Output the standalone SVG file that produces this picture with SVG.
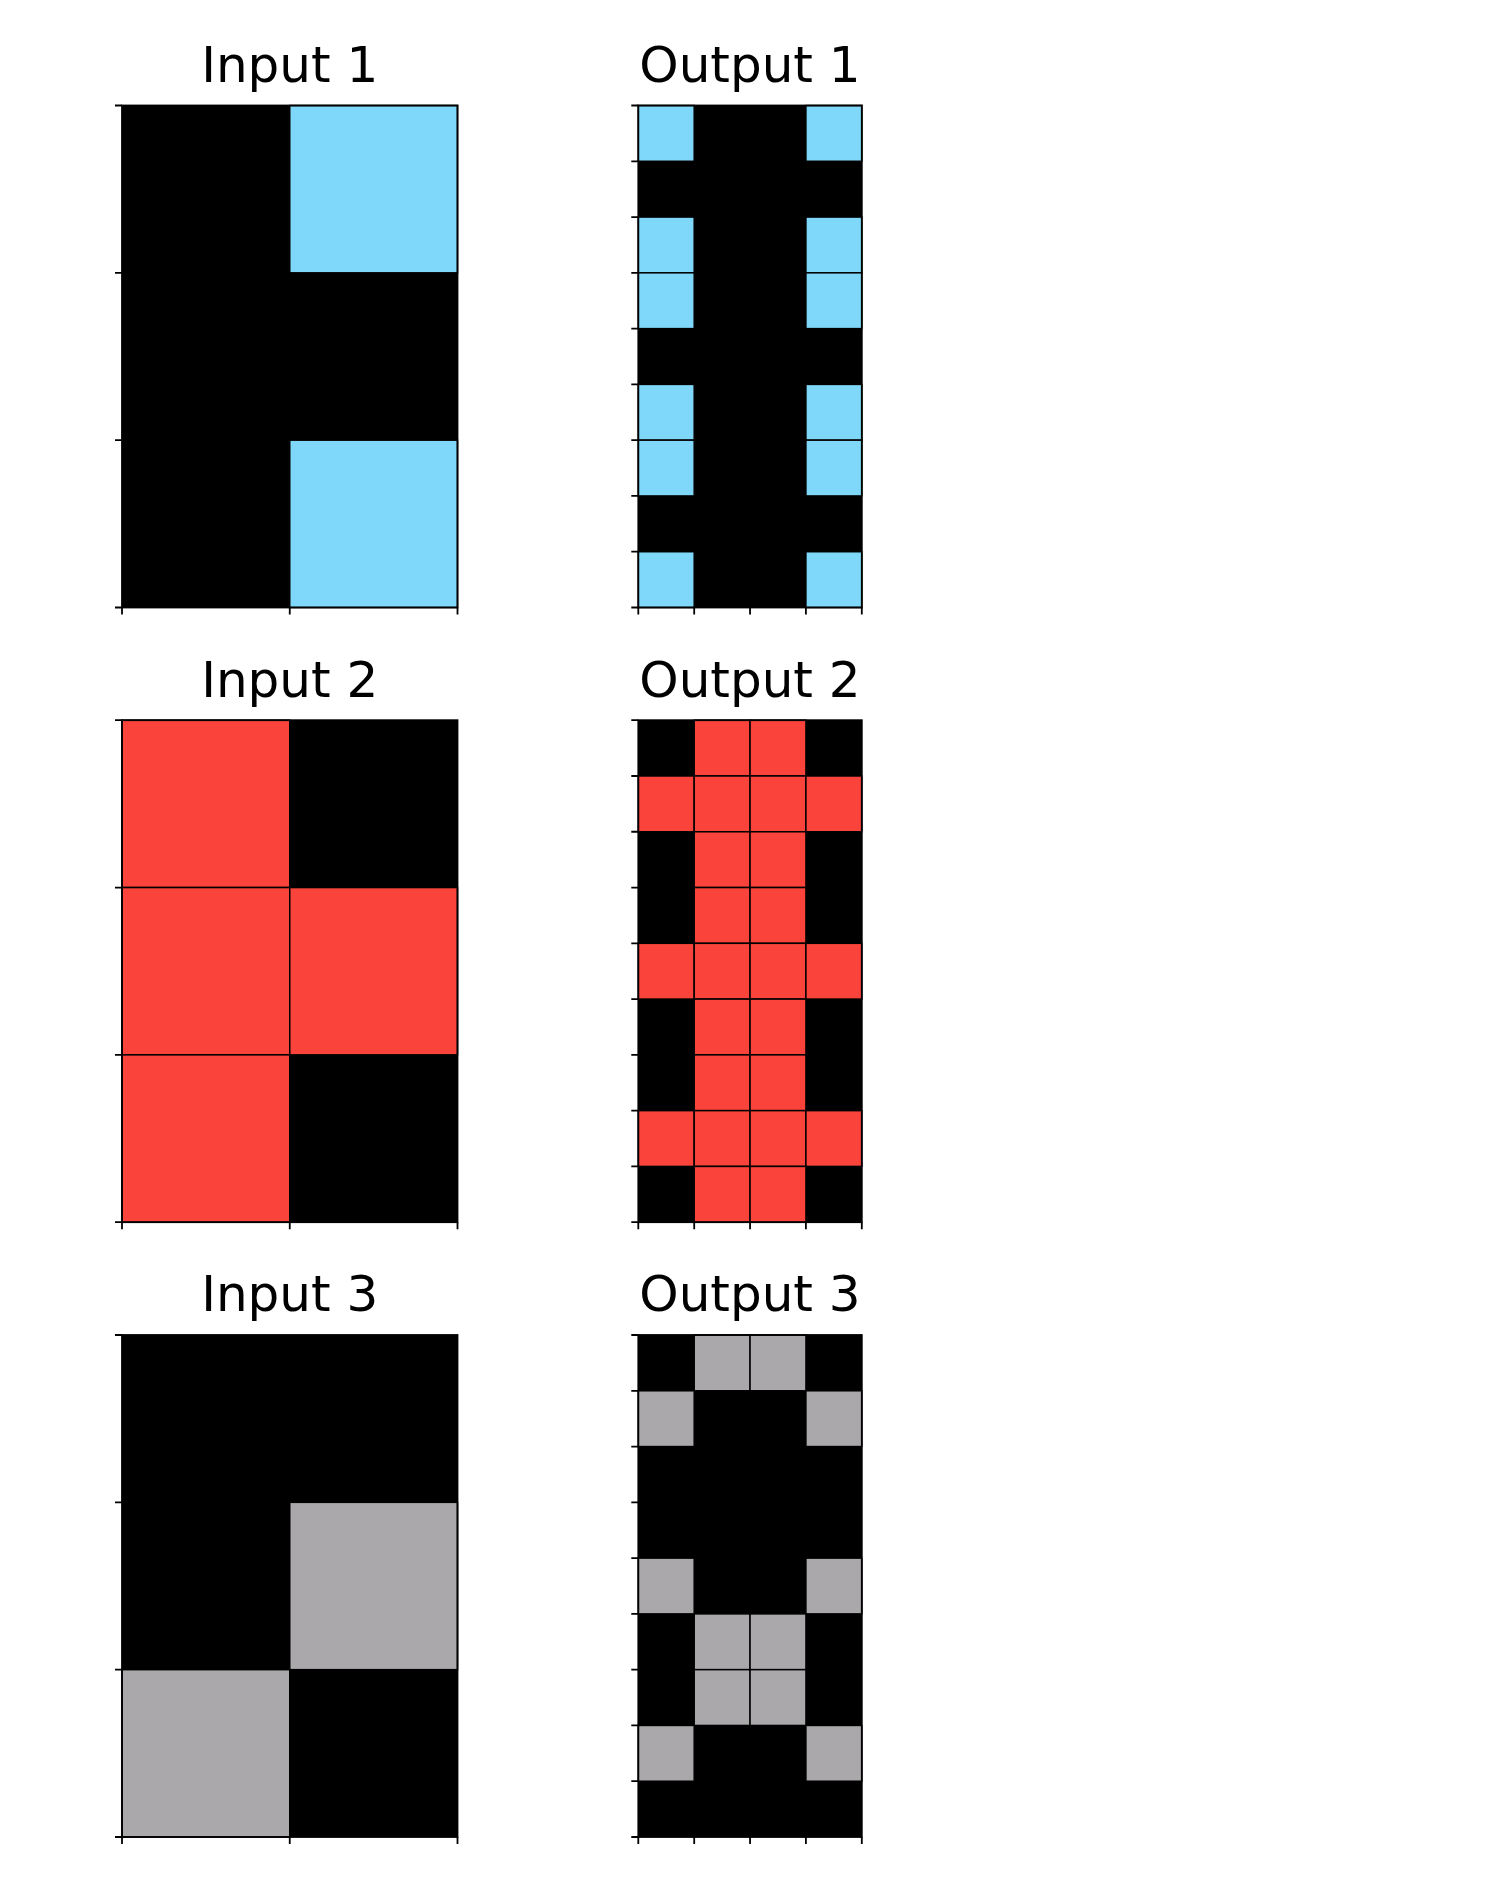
<svg xmlns="http://www.w3.org/2000/svg" width="1500" height="1890" viewBox="0 0 1500 1890">
<style>
.t{font-family:"DejaVu Sans",sans-serif;font-size:50px;fill:#000;text-anchor:middle}
.bg{fill:#000}
.c{stroke:#000;stroke-width:1.5}
.b{fill:#7fd7fa}
.r{fill:#f9433b}
.g{fill:#aaa8aa}
.f{fill:none;stroke:#000;stroke-width:1.8}
.tk{fill:none;stroke:#000;stroke-width:1.8}
</style>
<rect width="1500" height="1890" fill="#fff"/>

<g id="input1">
<text class="t" x="289.75" y="82">Input 1</text>
<g transform="translate(122,105.5)">
<rect class="bg" width="335.5" height="502"/>
<rect class="c b" x="167.75" y="0" width="167.75" height="167.33"/>
<rect class="c b" x="167.75" y="334.67" width="167.75" height="167.33"/>
<rect class="f" width="335.5" height="502"/>
<path class="tk" d="M0,0h-7M0,167.33h-7M0,334.67h-7M0,502h-7M0,502v7M167.75,502v7M335.5,502v7"/>
</g>
</g>

<g id="output1">
<text class="t" x="750" y="82">Output 1</text>
<g transform="translate(638.3,105.5)">
<rect class="bg" width="223.5" height="502"/>
<rect class="c b" x="0" y="0" width="55.9" height="55.78"/><rect class="c b" x="167.6" y="0" width="55.9" height="55.78"/>
<rect class="c b" x="0" y="111.56" width="55.9" height="55.78"/><rect class="c b" x="167.6" y="111.56" width="55.9" height="55.78"/>
<rect class="c b" x="0" y="167.33" width="55.9" height="55.78"/><rect class="c b" x="167.6" y="167.33" width="55.9" height="55.78"/>
<rect class="c b" x="0" y="278.89" width="55.9" height="55.78"/><rect class="c b" x="167.6" y="278.89" width="55.9" height="55.78"/>
<rect class="c b" x="0" y="334.67" width="55.9" height="55.78"/><rect class="c b" x="167.6" y="334.67" width="55.9" height="55.78"/>
<rect class="c b" x="0" y="446.22" width="55.9" height="55.78"/><rect class="c b" x="167.6" y="446.22" width="55.9" height="55.78"/>
<rect class="f" width="223.5" height="502"/>
<path class="tk" d="M0,0h-7M0,55.78h-7M0,111.56h-7M0,167.33h-7M0,223.11h-7M0,278.89h-7M0,334.67h-7M0,390.44h-7M0,446.22h-7M0,502h-7M0,502v7M55.9,502v7M111.75,502v7M167.6,502v7M223.5,502v7"/>
</g>
</g>

<g id="input2">
<text class="t" x="289.75" y="696.7">Input 2</text>
<g transform="translate(122,720.2)">
<rect class="bg" width="335.5" height="502"/>
<rect class="c r" x="0" y="0" width="167.75" height="167.33"/>
<rect class="c r" x="0" y="167.33" width="167.75" height="167.33"/>
<rect class="c r" x="167.75" y="167.33" width="167.75" height="167.33"/>
<rect class="c r" x="0" y="334.67" width="167.75" height="167.33"/>
<rect class="f" width="335.5" height="502"/>
<path class="tk" d="M0,0h-7M0,167.33h-7M0,334.67h-7M0,502h-7M0,502v7M167.75,502v7M335.5,502v7"/>
</g>
</g>

<g id="output2">
<text class="t" x="750" y="696.7">Output 2</text>
<g transform="translate(638.3,720.2)">
<rect class="bg" width="223.5" height="502"/>
<rect class="c r" x="55.9" y="0" width="55.9" height="55.78"/><rect class="c r" x="111.75" y="0" width="55.9" height="55.78"/>
<rect class="c r" x="0" y="55.78" width="55.9" height="55.78"/><rect class="c r" x="55.9" y="55.78" width="55.9" height="55.78"/><rect class="c r" x="111.75" y="55.78" width="55.9" height="55.78"/><rect class="c r" x="167.6" y="55.78" width="55.9" height="55.78"/>
<rect class="c r" x="55.9" y="111.56" width="55.9" height="55.78"/><rect class="c r" x="111.75" y="111.56" width="55.9" height="55.78"/>
<rect class="c r" x="55.9" y="167.33" width="55.9" height="55.78"/><rect class="c r" x="111.75" y="167.33" width="55.9" height="55.78"/>
<rect class="c r" x="0" y="223.11" width="55.9" height="55.78"/><rect class="c r" x="55.9" y="223.11" width="55.9" height="55.78"/><rect class="c r" x="111.75" y="223.11" width="55.9" height="55.78"/><rect class="c r" x="167.6" y="223.11" width="55.9" height="55.78"/>
<rect class="c r" x="55.9" y="278.89" width="55.9" height="55.78"/><rect class="c r" x="111.75" y="278.89" width="55.9" height="55.78"/>
<rect class="c r" x="55.9" y="334.67" width="55.9" height="55.78"/><rect class="c r" x="111.75" y="334.67" width="55.9" height="55.78"/>
<rect class="c r" x="0" y="390.44" width="55.9" height="55.78"/><rect class="c r" x="55.9" y="390.44" width="55.9" height="55.78"/><rect class="c r" x="111.75" y="390.44" width="55.9" height="55.78"/><rect class="c r" x="167.6" y="390.44" width="55.9" height="55.78"/>
<rect class="c r" x="55.9" y="446.22" width="55.9" height="55.78"/><rect class="c r" x="111.75" y="446.22" width="55.9" height="55.78"/>
<rect class="f" width="223.5" height="502"/>
<path class="tk" d="M0,0h-7M0,55.78h-7M0,111.56h-7M0,167.33h-7M0,223.11h-7M0,278.89h-7M0,334.67h-7M0,390.44h-7M0,446.22h-7M0,502h-7M0,502v7M55.9,502v7M111.75,502v7M167.6,502v7M223.5,502v7"/>
</g>
</g>

<g id="input3">
<text class="t" x="289.75" y="1311.4">Input 3</text>
<g transform="translate(122,1335)">
<rect class="bg" width="335.5" height="502"/>
<rect class="c g" x="167.75" y="167.33" width="167.75" height="167.33"/>
<rect class="c g" x="0" y="334.67" width="167.75" height="167.33"/>
<rect class="f" width="335.5" height="502"/>
<path class="tk" d="M0,0h-7M0,167.33h-7M0,334.67h-7M0,502h-7M0,502v7M167.75,502v7M335.5,502v7"/>
</g>
</g>

<g id="output3">
<text class="t" x="750" y="1311.4">Output 3</text>
<g transform="translate(638.3,1335)">
<rect class="bg" width="223.5" height="502"/>
<rect class="c g" x="55.9" y="0" width="55.9" height="55.78"/><rect class="c g" x="111.75" y="0" width="55.9" height="55.78"/>
<rect class="c g" x="0" y="55.78" width="55.9" height="55.78"/><rect class="c g" x="167.6" y="55.78" width="55.9" height="55.78"/>
<rect class="c g" x="0" y="223.11" width="55.9" height="55.78"/><rect class="c g" x="167.6" y="223.11" width="55.9" height="55.78"/>
<rect class="c g" x="55.9" y="278.89" width="55.9" height="55.78"/><rect class="c g" x="111.75" y="278.89" width="55.9" height="55.78"/>
<rect class="c g" x="55.9" y="334.67" width="55.9" height="55.78"/><rect class="c g" x="111.75" y="334.67" width="55.9" height="55.78"/>
<rect class="c g" x="0" y="390.44" width="55.9" height="55.78"/><rect class="c g" x="167.6" y="390.44" width="55.9" height="55.78"/>
<rect class="f" width="223.5" height="502"/>
<path class="tk" d="M0,0h-7M0,55.78h-7M0,111.56h-7M0,167.33h-7M0,223.11h-7M0,278.89h-7M0,334.67h-7M0,390.44h-7M0,446.22h-7M0,502h-7M0,502v7M55.9,502v7M111.75,502v7M167.6,502v7M223.5,502v7"/>
</g>
</g>
</svg>
